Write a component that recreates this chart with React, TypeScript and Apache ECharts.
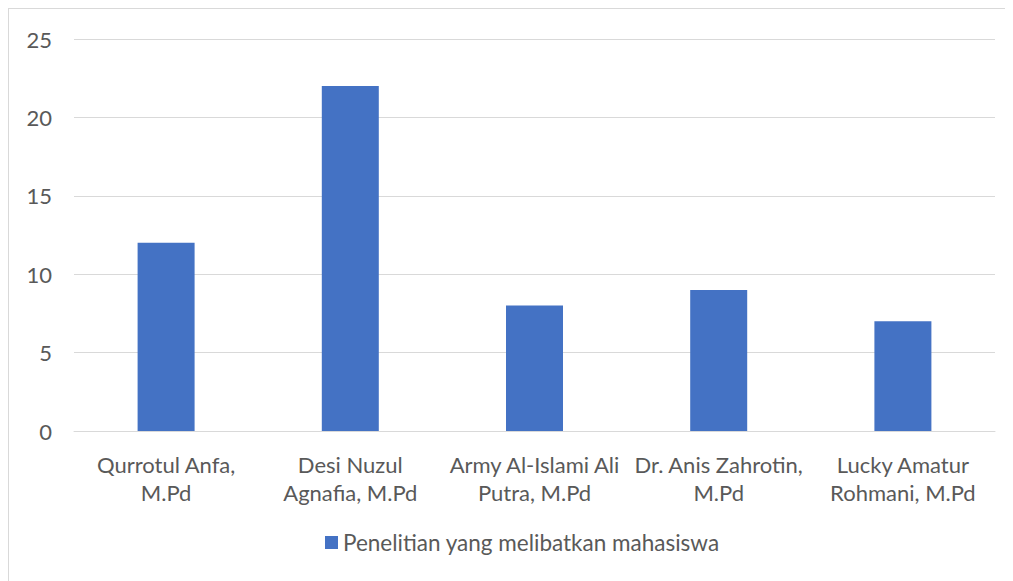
import React, { useEffect, useRef } from "react";
import * as echarts from "echarts";

const categories = [
  "Qurrotul Anfa,\nM.Pd",
  "Desi Nuzul\nAgnafia, M.Pd",
  "Army Al-Islami Ali\nPutra, M.Pd",
  "Dr. Anis Zahrotin,\nM.Pd",
  "Lucky Amatur\nRohmani, M.Pd",
];
const seriesName = "Penelitian yang melibatkan mahasiswa";
const values = [12, 22, 8, 9, 7];
const yTicks = { min: 0, max: 25, interval: 5 };

const FONT = "Lato, 'Noto Sans', sans-serif";

export default function App() {
  const ref = useRef<HTMLDivElement>(null);
  useEffect(() => {
    if (!ref.current) return;
    const chart = echarts.init(ref.current, undefined, { renderer: "svg" });
    chart.setOption({
      animation: false,
      backgroundColor: "#ffffff",
      textStyle: { fontFamily: FONT },
      grid: { left: 65, right: 18, top: 30, bottom: 150, containLabel: false },
      legend: {
        data: [seriesName],
        bottom: 22,
        left: 311,
        itemWidth: 13,
        itemHeight: 13,
        itemGap: 10,
        icon: "rect",
        textStyle: { fontFamily: FONT, fontSize: 22.5, color: "#595959", padding: [0, 0, 0, 0] },
      },
      xAxis: {
        type: "category",
        data: categories,
        axisLine: { show: true, lineStyle: { color: "#d9d9d9", width: 1 } },
        axisTick: { show: false },
        axisLabel: {
          color: "#595959",
          fontSize: 22,
          fontFamily: FONT,
          lineHeight: 28,
          margin: 19,
          interval: 0,
        },
      },
      yAxis: {
        type: "value",
        min: yTicks.min,
        max: yTicks.max,
        interval: yTicks.interval,
        axisLine: { show: false },
        axisTick: { show: false },
        splitLine: { lineStyle: { color: "#d9d9d9", width: 1 } },
        axisLabel: { color: "#595959", fontSize: 22, fontFamily: FONT, margin: 22 },
      },
      series: [
        {
          name: seriesName,
          type: "bar",
          data: values,
          barWidth: 57,
          itemStyle: { color: "#4472c4" },
        },
      ],
    });
    return () => chart.dispose();
  }, []);
  return (
    <div
      ref={ref}
      style={{
        width: 1006,
        height: 574,
        border: "1px solid #d9d9d9",
        boxSizing: "border-box",
      }}
    />
  );
}
